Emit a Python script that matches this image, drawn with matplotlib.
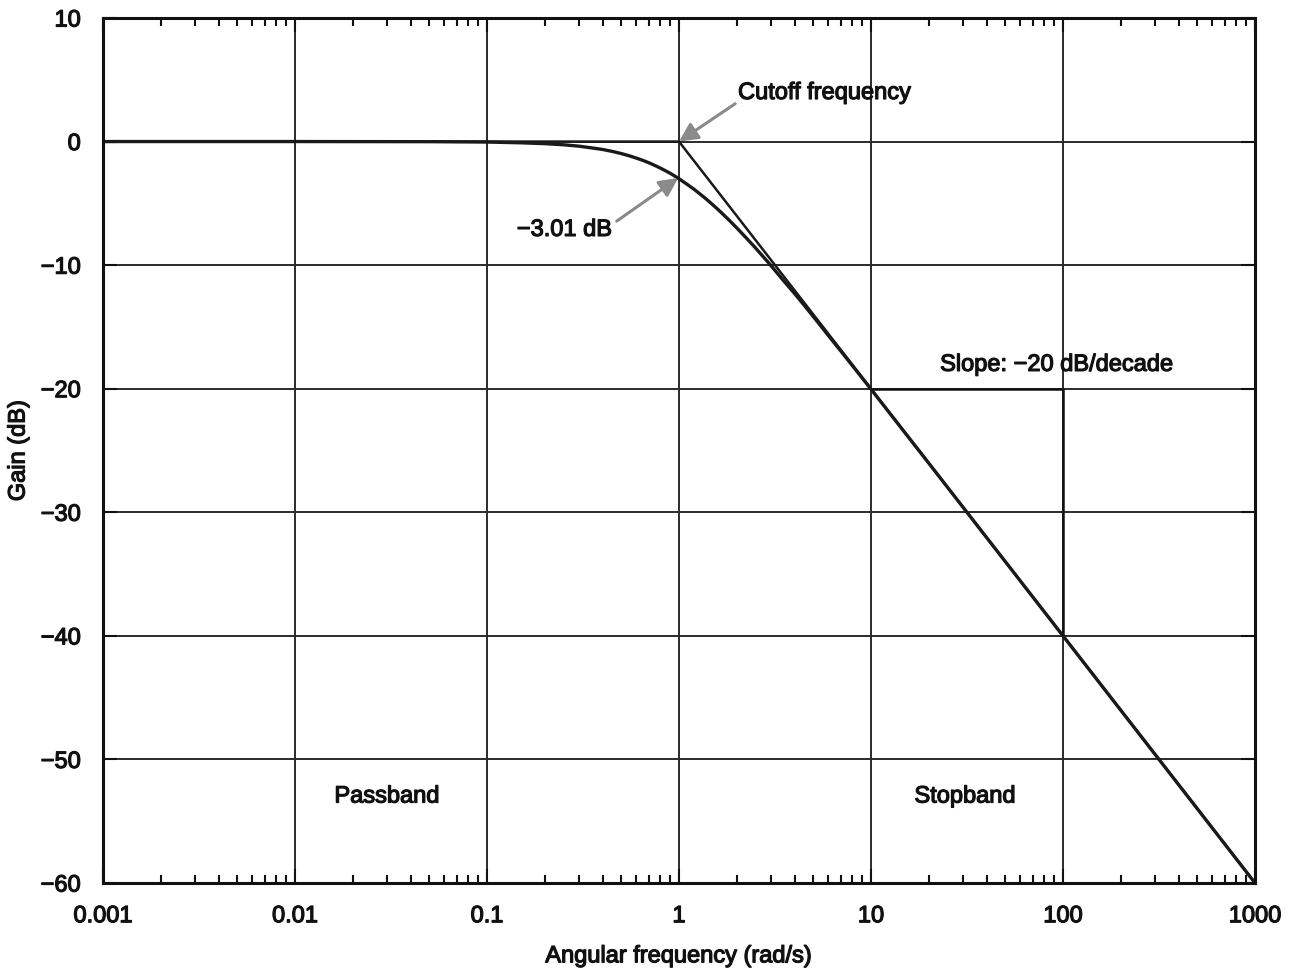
import matplotlib
matplotlib.use('Agg')
import matplotlib.pyplot as plt
import matplotlib.patheffects as pe
import numpy as np

plt.rcParams['font.family'] = ['Liberation Sans', 'DejaVu Sans']

# frequency response (rad/s, dB)
freq = [0.001, 0.01, 0.05, 0.1, 0.15, 0.2, 0.25, 0.3, 0.35, 0.4, 0.45, 0.5, 0.55,
        0.6, 0.65, 0.7, 0.75, 0.8, 0.85, 0.9, 0.95, 1.0, 1.1, 1.2, 1.3, 1.4,
        1.5, 1.6, 1.8, 2.0, 2.25, 2.5, 2.75, 3.0, 3.5, 4.0, 4.5, 5.0, 6.0, 7.0,
        8.5, 10, 15, 20, 30, 50, 100, 1000]
gain = [0.0, 0.0, -0.01, -0.04, -0.1, -0.17, -0.26, -0.37, -0.51, -0.64, -0.8,
        -0.97, -1.15, -1.34, -1.53, -1.73, -1.94, -2.15, -2.36, -2.57, -2.79,
        -3.01, -3.45, -3.87, -4.3, -4.71, -5.12, -5.51, -6.27, -6.99, -7.83,
        -8.6, -9.33, -10.0, -11.25, -12.3, -13.27, -14.15, -15.7, -17.0, -18.65,
        -20.04, -23.55, -26.03, -29.55, -33.98, -40.0, -60.0]

# straight-line asymptote
asym_freq = [0.001, 1, 1000]
asym_gain = [0, 0, -60]

# slope marker (vertical leg at 100 rad/s)
slope_freq = [10, 100, 100]
slope_gain = [-20, -20, -40]

xticks = [0.001, 0.01, 0.1, 1, 10, 100, 1000]
xtick_labels = ['0.001', '0.01', '0.1', '1', '10', '100', '1000']
yticks = [10, 0, -10, -20, -30, -40, -50, -60]
ytick_labels = ['10', '0', '\u221210', '\u221220', '\u221230', '\u221240', '\u221250', '\u221260']

heavy = [pe.withStroke(linewidth=0.9, foreground='#111111')]

fig = plt.figure(figsize=(13, 9.77), dpi=100)
ax = fig.add_axes([0.0792, 0.0962, 0.8862, 0.8854])

ax.set_xscale('log')
ax.set_xlim(0.001, 1000)
ax.set_ylim(-60, 10)

ax.grid(True, which='major', color='#2b2b2b', linewidth=1.4)
ax.set_axisbelow(True)

ax.plot(slope_freq, slope_gain, color='#111111', linewidth=1.8)
ax.plot(asym_freq, asym_gain, color='#1a1a1a', linewidth=1.8)
ax.plot(freq, gain, color='#1a1a1a', linewidth=2.4)

ax.set_xticks(xticks)
ax.set_xticklabels(xtick_labels)
ax.set_yticks(yticks)
ax.set_yticklabels(ytick_labels)
ax.xaxis.set_minor_locator(matplotlib.ticker.LogLocator(base=10, subs=np.arange(2, 10)))
ax.xaxis.set_minor_formatter(matplotlib.ticker.NullFormatter())
ax.tick_params(which='both', direction='in', top=True, right=True, labelsize=17,
               color='#111111', labelcolor='#111111')
ax.tick_params(which='major', length=10, width=1.5)
ax.tick_params(axis='x', which='major', pad=16)
ax.tick_params(axis='y', which='major', pad=16)
ax.tick_params(which='minor', length=6, width=1.5)
for lab in ax.get_xticklabels() + ax.get_yticklabels():
    lab.set_path_effects(heavy)

for s in ax.spines.values():
    s.set_linewidth(2.2)
    s.set_color('#111111')

ax.set_xlabel('Angular frequency (rad/s)', fontsize=17, labelpad=13,
              color='#111111', path_effects=heavy)
ax.set_ylabel('Gain (dB)', fontsize=17, labelpad=8, color='#111111',
              path_effects=heavy)

arrow = dict(arrowstyle='-|>', color='#8a8a8a', lw=2.2, mutation_scale=28,
             shrinkA=0, shrinkB=0)
txt = dict(fontsize=17, color='#111111', path_effects=heavy)
ax.annotate('Cutoff frequency', xy=(1, 0), xytext=(2.03, 3.93), va='center',
            ha='left', arrowprops=dict(arrow, relpos=(0, 0.1)), **txt)
ax.annotate('\u22123.01 dB', xy=(0.99, -2.95), xytext=(0.143, -7.15), va='center',
            ha='left', arrowprops=dict(arrow, relpos=(1.05, 0.9)), **txt)

ax.text(22.9, -18.07, 'Slope: \u221220 dB/decade', va='center', ha='left', **txt)
ax.text(0.0301, -53, 'Passband', va='center', ha='center', **txt)
ax.text(30.9, -53, 'Stopband', va='center', ha='center', **txt)

fig.savefig('out.png', dpi=100)
